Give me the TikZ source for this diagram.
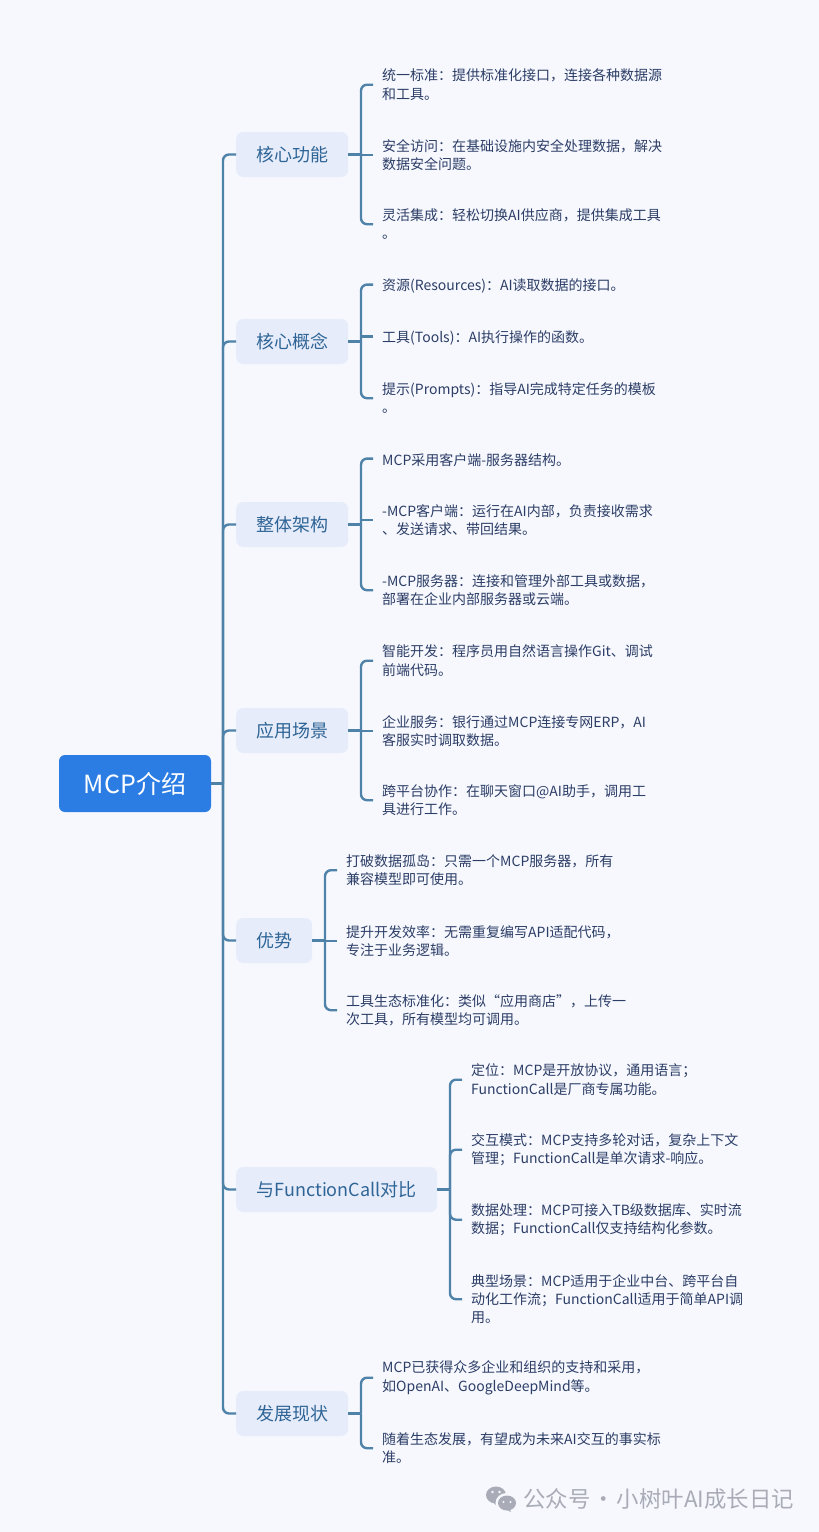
\documentclass[tikz,border=0pt]{standalone}
\usepackage{fontspec}
\setmainfont{Noto Sans CJK SC}
\usepackage{xcolor}
\definecolor{pagebg}{HTML}{F6F8FE}
\definecolor{linkcol}{HTML}{4F82A8}
\definecolor{rootcol}{HTML}{2B7DE4}
\definecolor{branchcol}{HTML}{E6ECFA}
\definecolor{branchtext}{HTML}{2F6596}
\definecolor{leaftext}{HTML}{2C3D66}
\definecolor{markcol}{HTML}{A9ACB6}
\tikzset{
    root node/.style={fill=rootcol, text=white, rounded corners=6pt, minimum width=152pt, minimum height=57pt, inner sep=0pt, font=\fontsize{25}{28}\selectfont},
    branch node/.style={fill=branchcol, text=branchtext, rounded corners=7pt, minimum height=45pt, inner xsep=20pt, inner ysep=0pt, anchor=west, font=\fontsize{18}{22}\selectfont},
    leaf node/.style={text=leaftext, anchor=west, inner xsep=9pt, inner ysep=0pt, align=left, font=\fontsize{14}{18.4}\selectfont, execute at begin node={\rule{0pt}{14.8pt}}},
    link/.style={draw=linkcol, line width=2.4pt, rounded corners=6pt}
}

\begin{document}
\begin{tikzpicture}[x=1pt, y=-1pt]
\useasboundingbox (0,0) rectangle (819,1532);
\fill[pagebg] (0,0) rectangle (819,1532);

%root
\node[root node] (root) at (135,783.5) {MCP介绍};
\coordinate (trunk) at (223,783.5);
\draw[link] (root.east) -- (trunk);

%branches
\node[branch node] (core) at (236,154.5) {核心功能};
\node[branch node] (concept) at (236,341.5) {核心概念};
\node[branch node] (arch) at (236,524.5) {整体架构};
\node[branch node] (scene) at (236,730.5) {应用场景};
\node[branch node] (adv) at (236,940.5) {优势};
\node[branch node, minimum width=201pt] (fcall) at (236,1189.5) {与FunctionCall对比};
\node[branch node] (state) at (236,1413.5) {发展现状};

\draw[link] (trunk) |- (core.west);
\draw[link] (trunk) |- (concept.west);
\draw[link] (trunk) |- (arch.west);
\draw[link] (trunk) |- (scene.west);
\draw[link] (trunk) |- (adv.west);
\draw[link] (trunk) |- (fcall.west);
\draw[link] (trunk) |- (state.west);

%core
\node[leaf node] (core1) at (373,84.7) {统一标准：提供标准化接口，连接各种数据源\\和工具。};
\node[leaf node] (core2) at (373,155) {安全访问：在基础设施内安全处理数据，解决\\数据安全问题。};
\node[leaf node] (core3) at (373,224.2) {灵活集成：轻松切换AI供应商，提供集成工具\\。};
\coordinate (corefork) at (361,154.5);
\draw[link] (core.east) -- (corefork);
\draw[link] (corefork) |- (core1.west);
\draw[link, sharp corners] (corefork) |- (core2.west);
\draw[link] (corefork) |- (core3.west);

%concept
\node[leaf node] (concept1) at (373,284.6) {资源(Resources)：AI读取数据的接口。};
\node[leaf node] (concept2) at (373,336.6) {工具(Tools)：AI执行操作的函数。};
\node[leaf node] (concept3) at (373,398.2) {提示(Prompts)：指导AI完成特定任务的模板\\。};
\coordinate (conceptfork) at (361,341.5);
\draw[link] (concept.east) -- (conceptfork);
\draw[link] (conceptfork) |- (concept1.west);
\draw[link, sharp corners] (conceptfork) |- (concept2.west);
\draw[link] (conceptfork) |- (concept3.west);

%arch
\node[leaf node] (arch1) at (373,458.6) {MCP采用客户端-服务器结构。};
\node[leaf node] (arch2) at (373,520.2) {-MCP客户端：运行在AI内部，负责接收需求\\、发送请求、带回结果。};
\node[leaf node] (arch3) at (373,590.2) {-MCP服务器：连接和管理外部工具或数据，\\部署在企业内部服务器或云端。};
\coordinate (archfork) at (361,524.5);
\draw[link] (arch.east) -- (archfork);
\draw[link] (archfork) |- (arch1.west);
\draw[link, sharp corners] (archfork) |- (arch2.west);
\draw[link] (archfork) |- (arch3.west);

%scene
\node[leaf node] (scene1) at (373,660.7) {智能开发：程序员用自然语言操作Git、调试\\前端代码。};
\node[leaf node] (scene2) at (373,731) {企业服务：银行通过MCP连接专网ERP，AI\\客服实时调取数据。};
\node[leaf node] (scene3) at (373,800.2) {跨平台协作：在聊天窗口@AI助手，调用工\\具进行工作。};
\coordinate (scenefork) at (361,730.5);
\draw[link] (scene.east) -- (scenefork);
\draw[link] (scenefork) |- (scene1.west);
\draw[link, sharp corners] (scenefork) |- (scene2.west);
\draw[link] (scenefork) |- (scene3.west);

%adv
\node[leaf node] (adv1) at (337,870.2) {打破数据孤岛：只需一个MCP服务器，所有\\兼容模型即可使用。};
\node[leaf node] (adv2) at (337,941) {提升开发效率：无需重复编写API适配代码，\\专注于业务逻辑。};
\node[leaf node] (adv3) at (337,1010.2) {工具生态标准化：类似“应用商店”，上传一\\次工具，所有模型均可调用。};
\coordinate (advfork) at (325,940.5);
\draw[link] (adv.east) -- (advfork);
\draw[link] (advfork) |- (adv1.west);
\draw[link, sharp corners] (advfork) |- (adv2.west);
\draw[link] (advfork) |- (adv3.west);

%fcall
\node[leaf node] (fcall1) at (462,1079.7) {定位：MCP是开放协议，通用语言；\\FunctionCall是厂商专属功能。};
\node[leaf node] (fcall2) at (462,1149.7) {交互模式：MCP支持多轮对话，复杂上下文\\管理；FunctionCall是单次请求-响应。};
\node[leaf node] (fcall3) at (462,1219.7) {数据处理：MCP可接入TB级数据库、实时流\\数据；FunctionCall仅支持结构化参数。};
\node[leaf node] (fcall4) at (462,1299.2) {典型场景：MCP适用于企业中台、跨平台自\\动化工作流；FunctionCall适用于简单API调\\用。};
\coordinate (fcallfork) at (450,1189.5);
\draw[link] (fcall.east) -- (fcallfork);
\draw[link] (fcallfork) |- (fcall1.west);
\draw[link] (fcallfork) |- (fcall2.west);
\draw[link] (fcallfork) |- (fcall3.west);
\draw[link] (fcallfork) |- (fcall4.west);

%state
\node[leaf node] (state1) at (373,1377.7) {MCP已获得众多企业和组织的支持和采用，\\如OpenAI、GoogleDeepMind等。};
\node[leaf node] (state2) at (373,1448.2) {随着生态发展，有望成为未来AI交互的事实标\\准。};
\coordinate (statefork) at (361,1413.5);
\draw[link] (state.east) -- (statefork);
\draw[link] (statefork) |- (state1.west);
\draw[link] (statefork) |- (state2.west);

%mark
\fill[markcol] (496,1495) ellipse (10 and 8.5);
\fill[markcol] (496,1505) -- (491,1500) -- (498,1500) -- cycle;
\fill[pagebg] (506.5,1503) ellipse (11 and 10);
\fill[markcol] (507,1503) ellipse (9 and 7.5);
\fill[markcol] (511,1512) -- (509,1508) -- (505,1509) -- cycle;
\fill[pagebg] (492.5,1492) circle (1.3);
\fill[pagebg] (499.5,1492) circle (1.3);
\fill[pagebg] (503.5,1502) circle (1.1);
\fill[pagebg] (510.5,1502) circle (1.1);
\node[anchor=west, inner sep=0pt, text=markcol, font=\fontsize{22.4}{26}\selectfont] (mark) at (523,1499) {公众号\hspace{-3pt} · \hspace{-3pt}小树叶AI成长日记};

\end{tikzpicture}
\end{document}
